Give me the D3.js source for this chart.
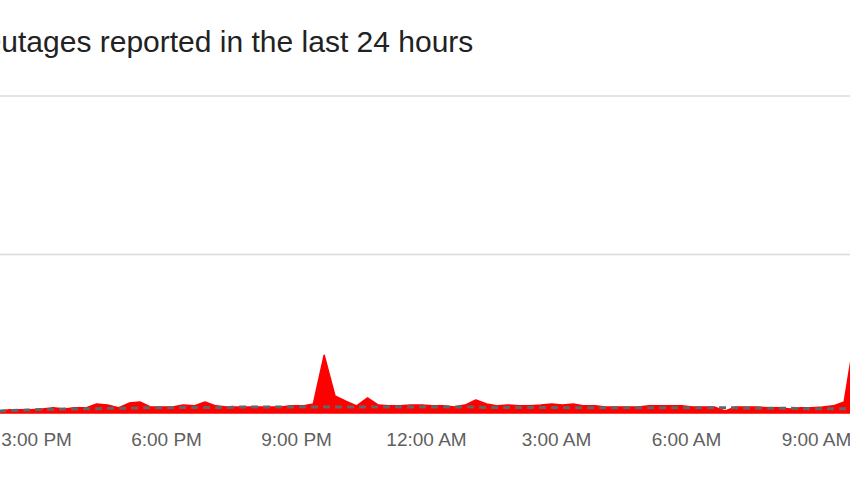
<!DOCTYPE html>
<html>
<head>
<meta charset="utf-8">
<script src="https://cdn.jsdelivr.net/npm/d3@7"></script>
<style>
  html, body { margin: 0; padding: 0; background: #fff; overflow: hidden; }
  svg { display: block; }
</style>
</head>
<body>
<svg id="chart" width="850" height="478"></svg>
<script>
// ---- data ----
const titleText = "Outages reported in the last 24 hours";
// first sample at 14:09, one sample every 15 minutes
const startTime = new Date(2024, 0, 1, 14, 9);
const stepMinutes = 15;
const reports = [
  0.5, 0.8, 0.8, 0.8, 1.0, 1.3, 1.0, 1.3, 1.3, 2.3,
  2.0, 1.3, 2.5, 2.8, 1.5, 1.5, 1.5, 2.0, 1.8, 2.8,
  1.8, 1.5, 1.5, 1.5, 1.5, 1.5, 1.5, 1.8, 1.8, 2.3,
  14.6, 4.3, 3.0, 1.8, 3.8, 2.0, 1.8, 1.8, 2.0, 2.0,
  1.8, 1.8, 1.5, 2.0, 3.3, 2.3, 1.8, 2.0, 1.8, 1.8,
  2.0, 2.3, 2.0, 2.3, 1.8, 1.8, 1.5, 1.5, 1.5, 1.5,
  1.8, 1.8, 1.8, 1.8, 1.5, 1.5, 1.5, 0.5, 1.5, 1.5,
  1.5, 1.3, 1.3, 1.0, 1.3, 1.3, 1.5, 1.8, 2.8, 19.7
];
const baseline = [
  0.5, 0.6, 0.7, 0.8, 0.9, 0.9, 1.0, 1.0, 1.1, 1.1,
  1.2, 1.2, 1.2, 1.3, 1.3, 1.3, 1.3, 1.4, 1.4, 1.4,
  1.4, 1.4, 1.5, 1.5, 1.5, 1.5, 1.5, 1.5, 1.5, 1.5,
  1.5, 1.5, 1.5, 1.5, 1.5, 1.5, 1.5, 1.5, 1.5, 1.5,
  1.5, 1.5, 1.5, 1.5, 1.5, 1.4, 1.4, 1.4, 1.4, 1.4,
  1.4, 1.4, 1.4, 1.3, 1.3, 1.3, 1.3, 1.3, 1.3, 1.3,
  1.3, 1.3, 1.3, 1.3, 1.3, 1.3, 1.3, 1.3, 1.3, 1.2,
  1.2, 1.2, 1.2, 1.2, 1.1, 1.1, 1.1, 1.1, 1.1, 1.1
];
const gridValues = [40, 80];
const tickTimes = [
  new Date(2024, 0, 1, 15), new Date(2024, 0, 1, 18), new Date(2024, 0, 1, 21),
  new Date(2024, 0, 2, 0), new Date(2024, 0, 2, 3), new Date(2024, 0, 2, 6),
  new Date(2024, 0, 2, 9)
];

const rows = reports.map((v, i) => ({
  t: new Date(startTime.getTime() + i * stepMinutes * 60000),
  v: v,
  b: baseline[i]
}));

// ---- layout ----
const svg = d3.select("#chart");
const W = 850, H = 478;

const x = d3.scaleTime()
  .domain([new Date(2024, 0, 1, 15), new Date(2024, 0, 2, 9)])
  .range([36, 816]);
const y = d3.scaleLinear().domain([0, 80]).range([413, 96]);

// title (the reference is cropped so the leading "O" falls off the left edge)
svg.append("text")
  .attr("x", -22).attr("y", 52)
  .attr("font-family", "Arial, 'Liberation Sans', sans-serif")
  .attr("font-size", 30)
  .attr("fill", "#222")
  .text(titleText);

// gridlines
svg.append("g").selectAll("line").data(gridValues).join("line")
  .attr("x1", 0).attr("x2", W)
  .attr("y1", d => y(d)).attr("y2", d => y(d))
  .attr("stroke", "#dadada").attr("stroke-width", 1.5);

// area
const area = d3.area()
  .x(d => x(d.t))
  .y0(y(0))
  .y1(d => y(d.v))
  .curve(d3.curveLinear);
svg.append("path").datum(rows)
  .attr("d", area)
  .attr("fill", "#ff0000")
  .attr("stroke", "#ff0000")
  .attr("stroke-width", 1.5)
  .attr("stroke-linejoin", "round");

// baseline dashed line
const line = d3.line().x(d => x(d.t)).y(d => y(d.b)).curve(d3.curveMonotoneX);
svg.append("path").datum(rows)
  .attr("d", line)
  .attr("fill", "none")
  .attr("stroke", "#656565")
  .attr("stroke-width", 3)
  .attr("stroke-dasharray", "7,5");

// x axis
const fmt = d3.timeFormat("%-I:%M %p");
const xAxis = d3.axisBottom(x).tickValues(tickTimes).tickFormat(fmt).tickSize(0).tickPadding(0);
const gx = svg.append("g").attr("transform", "translate(0,432)").call(xAxis);
gx.select(".domain").remove();
gx.selectAll("text")
  .attr("dy", "0.71em")
  .attr("font-family", "Arial, 'Liberation Sans', sans-serif")
  .attr("font-size", 19)
  .attr("fill", "#5f5f5f");
</script>
</body>
</html>
